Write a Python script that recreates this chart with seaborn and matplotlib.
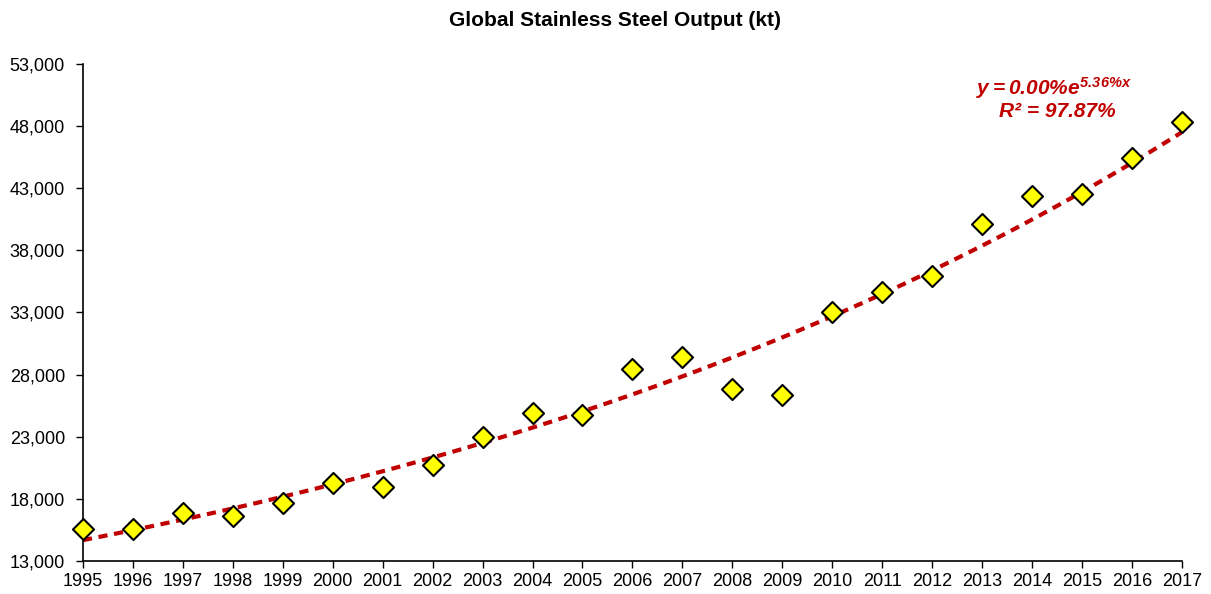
import numpy as np
import pandas as pd
import seaborn as sns
import matplotlib.pyplot as plt
from matplotlib.ticker import FuncFormatter

years = list(range(1995, 2018))
output_kt = [15600, 15600, 16860, 16620, 17670, 19280, 18960, 20730, 22980, 24910,
             24750, 28450, 29420, 26840, 26360, 33040, 34650, 35940, 40120, 42380,
             42540, 45430, 48330]
yticks = [13000, 18000, 23000, 28000, 33000, 38000, 43000, 48000, 53000]

df = pd.DataFrame({'year': years, 'kt': output_kt})

sns.set_theme(style="white")
plt.rcParams['font.family'] = ['Liberation Sans', 'DejaVu Sans']
plt.rcParams['mathtext.fontset'] = 'custom'
plt.rcParams['mathtext.rm'] = 'Liberation Sans:bold:italic'
plt.rcParams['mathtext.it'] = 'Liberation Sans:bold:italic'

fig = plt.figure(figsize=(12.11, 5.94), dpi=100)
ax = fig.add_axes([0.0685, 0.0556, 0.9075, 0.8367])

# exponential trend line (log-linear fit)
b, a = np.polyfit(df['year'], np.log(df['kt']), 1)
xs = np.linspace(1995, 2017, 200)
trend = pd.DataFrame({'year': xs, 'kt': np.exp(a + b * xs)})
sns.lineplot(data=trend, x='year', y='kt', ax=ax, color='#C00000',
             lw=3, dashes=False, zorder=2)
ax.lines[-1].set_dashes([2.2, 1.6])

sns.scatterplot(data=df, x='year', y='kt', ax=ax, marker='D', s=115,
                color='#FFFF00', edgecolor='black', linewidth=1.5, zorder=3,
                clip_on=False)

ax.set_xlim(1995, 2017)
ax.set_ylim(13000, 53000)
ax.set_xticks(years)
ax.set_yticks(yticks)
ax.yaxis.set_major_formatter(FuncFormatter(lambda v, p: f"{int(v):,}"))
ax.tick_params(axis='both', direction='out', length=5, width=1, color='black',
               labelsize=13, labelcolor='black', bottom=True, left=True)
ax.tick_params(axis='y', pad=8)
ax.tick_params(axis='x', pad=4)
ax.set_xlabel('')
ax.set_ylabel('')
for s in ['top', 'right']:
    ax.spines[s].set_visible(False)
for s in ['left', 'bottom']:
    ax.spines[s].set_color('black')
    ax.spines[s].set_linewidth(1.2)

fig.text(0.508, 0.965, 'Global Stainless Steel Output (kt)', ha='center', va='center',
         fontsize=15, fontweight='bold', color='black')

fig.text(0.870, 0.852, r'$y = 0.00\%e^{5.36\%x}$', ha='center', va='center',
         fontsize=15, color='#C00000')
fig.text(0.873, 0.813, 'R² = 97.87%', ha='center', va='center',
         fontsize=15, color='#C00000', fontweight='bold', fontstyle='italic')

plt.savefig('out.png', dpi=100)
